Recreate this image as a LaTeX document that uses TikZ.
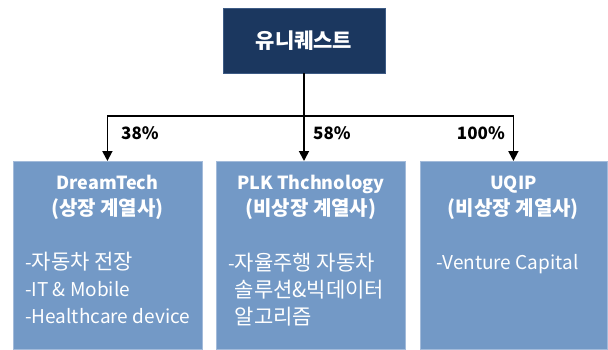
\documentclass[tikz,border=0pt]{standalone}
\usepackage{fontspec}
\setmainfont{Noto Sans CJK KR}
\usetikzlibrary{arrows.meta}
\definecolor{navy}{HTML}{1B375F}
\definecolor{navyedge}{HTML}{3D5B85}
\definecolor{steel}{HTML}{7399C6}
\definecolor{steeledge}{HTML}{A3BBDA}
% Hangul runs are set a little larger than the Latin text
\newcommand{\hg}[1]{{\fontsize{21}{24}\selectfont #1}}
\newcommand{\hgt}[1]{{\fontsize{20}{24}\selectfont #1}}
\tikzset{
  topbox/.style={fill=navy, draw=navyedge, line width=0.6pt,
    minimum width=162pt, minimum height=65pt, inner sep=0pt,
    text=white, font=\fontsize{21}{24}\selectfont\bfseries},
  subbox/.style={fill=steel, draw=steeledge, line width=0.8pt,
    minimum height=188pt, inner sep=0pt, anchor=north west},
  title/.style={anchor=base, inner sep=0pt, text=white,
    font=\fontsize{18}{22}\selectfont\bfseries},
  item/.style={anchor=base west, inner sep=0pt, text=white,
    font=\fontsize{19}{22}\selectfont},
  share/.style={inner sep=0pt, text=black,
    font=\fontsize{17}{20}\selectfont\bfseries},
  link/.style={line width=1.8pt, draw=black},
  tiplink/.style={link, -{Triangle[width=10pt,length=10pt]}}
}
\begin{document}
\begin{tikzpicture}[x=1pt,y=-1pt]
\useasboundingbox (0,0) rectangle (608,349);

% parent company
\node[topbox] (top) at (304,40.5) {유니퀘스트};

% affiliates
\node[subbox, minimum width=189pt] (b1) at (12.5,161) {};
\node[subbox, minimum width=189pt] (b2) at (216,161) {};
\node[subbox, minimum width=187pt] (b3) at (419.5,161) {};

% ownership links
\coordinate (split) at (304,116);
\draw[link] (top.south) -- (split);
\draw[tiplink] (split) -| (b1.north);
\draw[tiplink] (split) -- (split |- b2.north);
\draw[tiplink] (split) -| (b3.north);

% shares
\node[share, anchor=base west] (s1) at (121,139.5) {38\%};
\node[share, anchor=base west] (s2) at (313,139.5) {58\%};
\node[share, anchor=base east] (s3) at (505,139.5) {100\%};

% DreamTech
\node[title] (t1a) at (b1.north |- 0,189.5) {DreamTech};
\node[title] (t1b) at (b1.north |- 0,215.5) {\hgt{(상장 계열사)}};
\node[item] (i1a) at (25,269.5) {-\hg{자동차 전장}};
\node[item] (i1b) at (25,296.5) {-IT \& Mobile};
\node[item] (i1c) at (25,323.5) {-Healthcare device};

% PLK Thchnology
\node[title] (t2a) at (b2.north |- 0,189.5) {PLK Thchnology};
\node[title] (t2b) at (b2.north |- 0,215.5) {\hgt{(비상장 계열사)}};
\node[item] (i2a) at (228,270.5) {-\hg{자율주행 자동차}};
\node[item] (i2b) at (234.5,297.5) {\hg{솔루션\&빅데이터}};
\node[item] (i2c) at (234.5,324.5) {\hg{알고리즘}};

% UQIP
\node[title] (t3a) at (b3.north |- 0,189.5) {UQIP};
\node[title] (t3b) at (b3.north |- 0,215.5) {\hgt{(비상장 계열사)}};
\node[item] (i3a) at (436,269.5) {-Venture Capital};
\end{tikzpicture}
\end{document}
